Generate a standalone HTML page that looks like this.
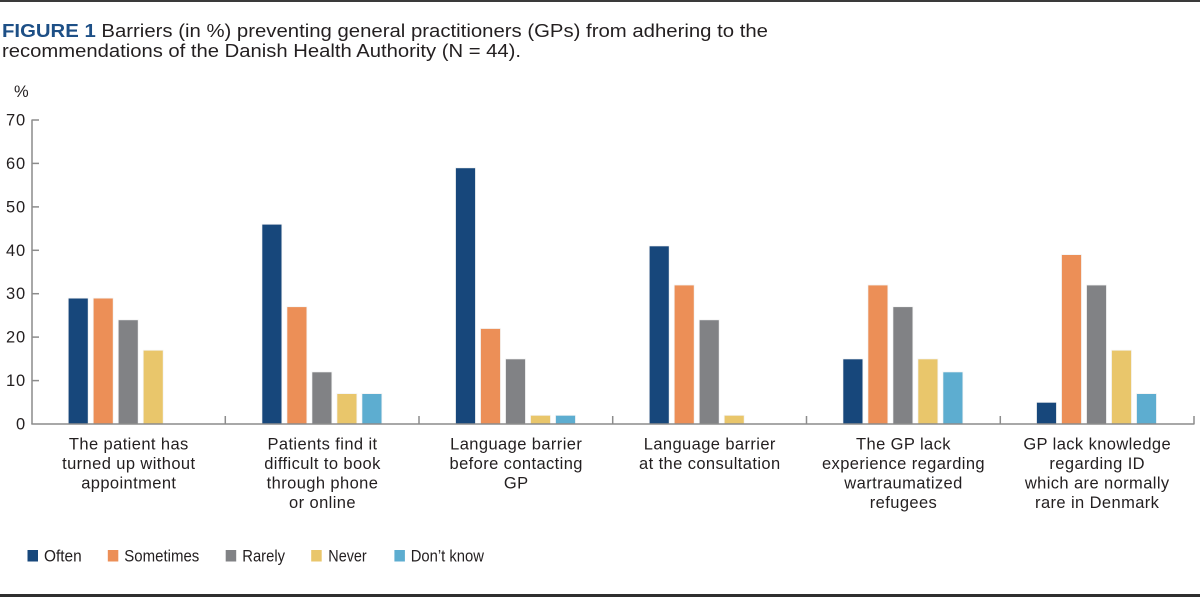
<!DOCTYPE html>
<html>
<head>
<meta charset="utf-8">
<style>
html,body{margin:0;padding:0;background:#fff;}
svg{display:block;}
text{font-family:"Liberation Sans",Arial,sans-serif;fill:#231f20;}
</style>
</head>
<body>
<svg width="1200" height="597" viewBox="0 0 1200 597" xmlns="http://www.w3.org/2000/svg">
<rect x="0" y="0" width="1200" height="597" fill="#fff"/>
<rect x="0" y="0" width="1200" height="2" fill="#3a3a3a"/>
<rect x="0" y="594" width="1200" height="3" fill="#2e2e2e"/>

<!-- Title -->
<text x="2" y="37" font-size="18.6" textLength="766" lengthAdjust="spacingAndGlyphs"><tspan font-weight="bold" style="fill:#1d4f86">FIGURE 1</tspan> Barriers (in %) preventing general practitioners (GPs) from adhering to the</text>
<text x="2" y="57" font-size="18.6" textLength="519" lengthAdjust="spacingAndGlyphs">recommendations of the Danish Health Authority (N = 44).</text>

<!-- % label -->
<text x="14" y="97" font-size="16.5">%</text>

<!-- Bars -->
<g stroke="#f4f4f4" stroke-width="0.8">
<!-- G1 -->
<rect x="68.2" y="298.1" width="20" height="125.9" fill="#17477b"/>
<rect x="93.2" y="298.1" width="20" height="125.9" fill="#ec8f57"/>
<rect x="118.2" y="319.8" width="20" height="104.2" fill="#818285"/>
<rect x="143.2" y="350.2" width="20" height="73.8" fill="#e9c66b"/>
<!-- G2 -->
<rect x="261.9" y="224.2" width="20" height="199.8" fill="#17477b"/>
<rect x="286.9" y="306.7" width="20" height="117.3" fill="#ec8f57"/>
<rect x="311.9" y="371.9" width="20" height="52.1" fill="#818285"/>
<rect x="336.9" y="393.6" width="20" height="30.4" fill="#e9c66b"/>
<rect x="361.9" y="393.6" width="20" height="30.4" fill="#5dadd0"/>
<!-- G3 -->
<rect x="455.5" y="167.8" width="20" height="256.2" fill="#17477b"/>
<rect x="480.5" y="328.5" width="20" height="95.5" fill="#ec8f57"/>
<rect x="505.5" y="358.9" width="20" height="65.1" fill="#818285"/>
<rect x="530.5" y="415.3" width="20" height="8.7" fill="#e9c66b"/>
<rect x="555.5" y="415.3" width="20" height="8.7" fill="#5dadd0"/>
<!-- G4 -->
<rect x="649.2" y="245.9" width="20" height="178.1" fill="#17477b"/>
<rect x="674.2" y="285.0" width="20" height="139.0" fill="#ec8f57"/>
<rect x="699.2" y="319.8" width="20" height="104.2" fill="#818285"/>
<rect x="724.2" y="415.3" width="20" height="8.7" fill="#e9c66b"/>
<!-- G5 -->
<rect x="842.9" y="358.9" width="20" height="65.1" fill="#17477b"/>
<rect x="867.9" y="285.0" width="20" height="139.0" fill="#ec8f57"/>
<rect x="892.9" y="306.7" width="20" height="117.3" fill="#818285"/>
<rect x="917.9" y="358.9" width="20" height="65.1" fill="#e9c66b"/>
<rect x="942.9" y="371.9" width="20" height="52.1" fill="#5dadd0"/>
<!-- G6 -->
<rect x="1036.5" y="402.3" width="20" height="21.7" fill="#17477b"/>
<rect x="1061.5" y="254.6" width="20" height="169.4" fill="#ec8f57"/>
<rect x="1086.5" y="285.0" width="20" height="139.0" fill="#818285"/>
<rect x="1111.5" y="350.2" width="20" height="73.8" fill="#e9c66b"/>
<rect x="1136.5" y="393.6" width="20" height="30.4" fill="#5dadd0"/>
</g>

<!-- Axes -->
<g stroke="#8c8c8c" stroke-width="1.5" fill="none">
<line x1="32" y1="119.5" x2="32" y2="424"/>
<line x1="31.3" y1="424" x2="1194.5" y2="424"/>
<line x1="32" y1="120" x2="39" y2="120"/>
<line x1="32" y1="163.4" x2="39" y2="163.4"/>
<line x1="32" y1="206.9" x2="39" y2="206.9"/>
<line x1="32" y1="250.3" x2="39" y2="250.3"/>
<line x1="32" y1="293.7" x2="39" y2="293.7"/>
<line x1="32" y1="337.1" x2="39" y2="337.1"/>
<line x1="32" y1="380.6" x2="39" y2="380.6"/>
<line x1="225.3" y1="416" x2="225.3" y2="424"/>
<line x1="419" y1="416" x2="419" y2="424"/>
<line x1="612.7" y1="416" x2="612.7" y2="424"/>
<line x1="806.5" y1="416" x2="806.5" y2="424"/>
<line x1="1000.3" y1="416" x2="1000.3" y2="424"/>
<line x1="1194" y1="416" x2="1194" y2="424"/>
</g>

<!-- Y tick labels -->
<g font-size="16.5" text-anchor="end" letter-spacing="0.8">
<text x="26" y="125.5">70</text>
<text x="26" y="169">60</text>
<text x="26" y="212.4">50</text>
<text x="26" y="255.8">40</text>
<text x="26" y="299.2">30</text>
<text x="26" y="342.6">20</text>
<text x="26" y="386.1">10</text>
<text x="26" y="429.5">0</text>
</g>

<!-- Category labels -->
<g font-size="16.5" text-anchor="middle" letter-spacing="0.4">
<text x="128.8" y="449.5">The patient has</text>
<text x="128.8" y="469">turned up without</text>
<text x="128.8" y="488.5">appointment</text>

<text x="322.5" y="449.5">Patients find it</text>
<text x="322.5" y="469">difficult to book</text>
<text x="322.5" y="488.5">through phone</text>
<text x="322.5" y="508">or online</text>

<text x="516.2" y="449.5">Language barrier</text>
<text x="516.2" y="469">before contacting</text>
<text x="516.2" y="488.5">GP</text>

<text x="709.8" y="449.5">Language barrier</text>
<text x="709.8" y="469">at the consultation</text>

<text x="903.5" y="449.5">The GP lack</text>
<text x="903.5" y="469">experience regarding</text>
<text x="903.5" y="488.5">wartraumatized</text>
<text x="903.5" y="508">refugees</text>

<text x="1097.2" y="449.5">GP lack knowledge</text>
<text x="1097.2" y="469">regarding ID</text>
<text x="1097.2" y="488.5">which are normally</text>
<text x="1097.2" y="508">rare in Denmark</text>
</g>

<!-- Legend -->
<g font-size="16.5">
<rect x="27.5" y="550" width="10.5" height="11.5" fill="#17477b"/>
<text x="44" y="561.5" textLength="37.7" lengthAdjust="spacingAndGlyphs">Often</text>
<rect x="107.8" y="550" width="10.5" height="11.5" fill="#ec8f57"/>
<text x="124.3" y="561.5" textLength="75" lengthAdjust="spacingAndGlyphs">Sometimes</text>
<rect x="225.7" y="550" width="10.5" height="11.5" fill="#818285"/>
<text x="242.3" y="561.5" textLength="42.7" lengthAdjust="spacingAndGlyphs">Rarely</text>
<rect x="311.2" y="550" width="10.5" height="11.5" fill="#e9c66b"/>
<text x="328.3" y="561.5" textLength="38.4" lengthAdjust="spacingAndGlyphs">Never</text>
<rect x="394.4" y="550" width="10.5" height="11.5" fill="#5dadd0"/>
<text x="410.7" y="561.5" textLength="73.3" lengthAdjust="spacingAndGlyphs">Don’t know</text>
</g>
</svg>
</body>
</html>
